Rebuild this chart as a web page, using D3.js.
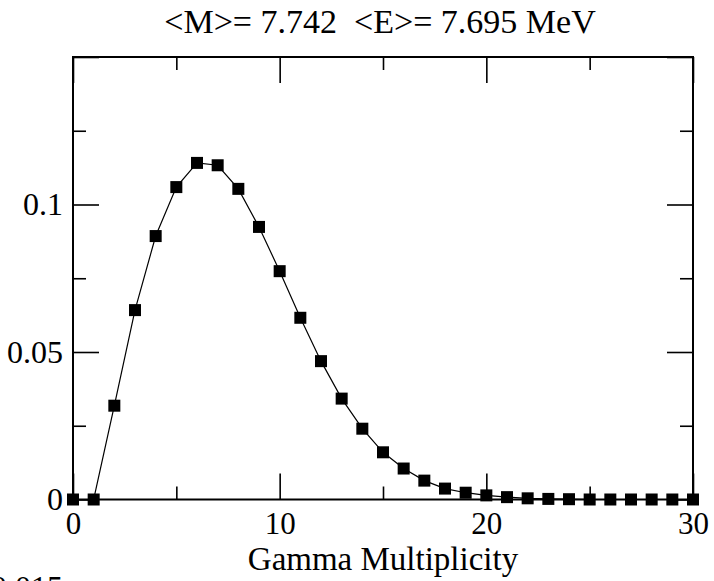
<!DOCTYPE html>
<html>
<head>
<meta charset="utf-8">
<script src="https://cdn.jsdelivr.net/npm/d3@7"></script>
<style>
  html, body { margin: 0; padding: 0; background: #fff; }
  svg { display: block; }
  text { font-family: "Liberation Serif", "Times New Roman", serif; fill: #000; }
</style>
</head>
<body>
<svg id="chart" width="714" height="581"></svg>
<script>
// ---- data ----
const multiplicity = [0,1,2,3,4,5,6,7,8,9,10,11,12,13,14,15,16,17,18,19,20,21,22,23,24,25,26,27,28,29,30];
const probability = [0, 0, 0.0318, 0.0642, 0.0893, 0.1059, 0.1141, 0.1133, 0.1053, 0.0924, 0.0774,
                     0.0616, 0.0469, 0.0342, 0.0240, 0.0160, 0.0105, 0.0064, 0.0037, 0.0023, 0.0014,
                     0.0008, 0.0004, 0.0002, 0.0001, 0, 0, 0, 0, 0, 0];
const xMajorTicks = [0, 10, 20, 30];
const xMinorTicks = [5, 15, 25];
const yMajorTicks = [0, 0.05, 0.1, 0.15];
const yMinorTicks = [0.025, 0.075, 0.125];
const yTickLabels = ["0", "0.05", "0.1", ""];
const titleText = "<M>= 7.742  <E>= 7.695 MeV";
const xLabelText = "Gamma Multiplicity";
const strayText = "0.015";

// ---- layout ----
const svg = d3.select("#chart");
const L = 73, R = 693, T = 57, B = 499.5;
const FS = 32, FX = 31, FT = 34, MAJ = 26, MIN = 13;

const x = d3.scaleLinear().domain([0, 30]).range([L, R]);
const y = d3.scaleLinear().domain([0, 0.15]).range([B, T]);

function styleAxis(size) {
  return g => {
    g.select(".domain").remove();
    g.selectAll(".tick line").attr("stroke", "#000").attr("stroke-width", 1.6);
    g.selectAll(".tick text").style("font-size", size + "px").attr("fill", "#000")
      .style("font-family", '"Liberation Serif", "Times New Roman", serif');
  };
}

// bottom axis
svg.append("g").attr("transform", `translate(0,${B})`)
  .call(d3.axisBottom(x).tickValues(xMajorTicks).tickSize(-MAJ).tickPadding(12).tickFormat(d3.format("d")))
  .call(styleAxis(FX));
svg.append("g").attr("transform", `translate(0,${B})`)
  .call(d3.axisBottom(x).tickValues(xMinorTicks).tickSize(-MIN).tickFormat(""))
  .call(styleAxis(FX));
// top axis
svg.append("g").attr("transform", `translate(0,${T})`)
  .call(d3.axisTop(x).tickValues(xMajorTicks).tickSize(-MAJ).tickFormat(""))
  .call(styleAxis(FX));
svg.append("g").attr("transform", `translate(0,${T})`)
  .call(d3.axisTop(x).tickValues(xMinorTicks).tickSize(-MIN).tickFormat(""))
  .call(styleAxis(FX));
// left axis
svg.append("g").attr("transform", `translate(${L},0)`)
  .call(d3.axisLeft(y).tickValues(yMajorTicks).tickSize(-MAJ).tickPadding(10)
    .tickFormat((d, i) => yTickLabels[i]))
  .call(styleAxis(FS));
svg.append("g").attr("transform", `translate(${L},0)`)
  .call(d3.axisLeft(y).tickValues(yMinorTicks).tickSize(-MIN).tickFormat(""))
  .call(styleAxis(FS));
// right axis
svg.append("g").attr("transform", `translate(${R},0)`)
  .call(d3.axisRight(y).tickValues(yMajorTicks).tickSize(-MAJ).tickFormat(""))
  .call(styleAxis(FS));
svg.append("g").attr("transform", `translate(${R},0)`)
  .call(d3.axisRight(y).tickValues(yMinorTicks).tickSize(-MIN).tickFormat(""))
  .call(styleAxis(FS));

// frame
svg.append("rect").attr("x", L).attr("y", T).attr("width", R - L).attr("height", B - T)
  .attr("fill", "none").attr("stroke", "#000").attr("stroke-width", 2);

// data
const pts = multiplicity.map((m, i) => [m, probability[i]]);
svg.append("path").datum(pts)
  .attr("fill", "none").attr("stroke", "#000").attr("stroke-width", 1.2)
  .attr("d", d3.line().x(d => x(d[0])).y(d => y(d[1])));
const S = 12;
svg.append("g").selectAll("rect").data(pts).join("rect")
  .attr("x", d => x(d[0]) - S / 2).attr("y", d => y(d[1]) - S / 2)
  .attr("width", S).attr("height", S).attr("fill", "#000");

// texts
svg.append("text").attr("x", (L + R) / 2 - 3).attr("y", 33).attr("text-anchor", "middle")
  .attr("xml:space", "preserve").style("white-space", "pre")
  .style("font-size", FT + "px").text(titleText);
svg.append("text").attr("x", (L + R) / 2).attr("y", 570).attr("text-anchor", "middle")
  .style("font-size", "33px").text(xLabelText);
svg.append("text").attr("x", 63).attr("y", 598).attr("text-anchor", "end")
  .style("font-size", FS + "px").text(strayText);
</script>
</body>
</html>
